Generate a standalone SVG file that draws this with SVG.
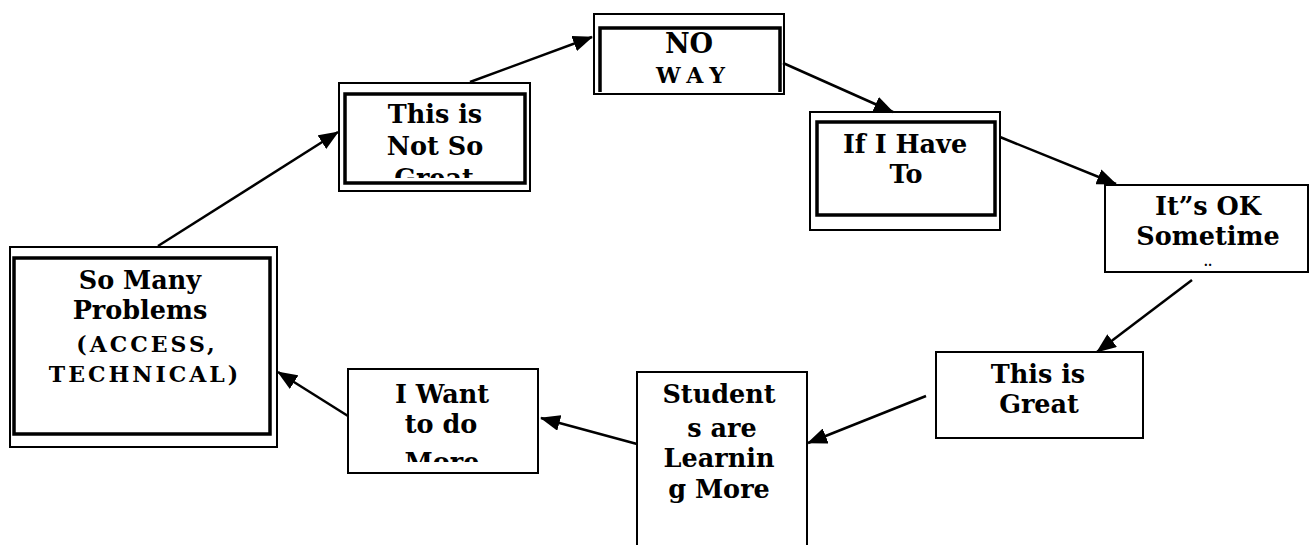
<svg xmlns="http://www.w3.org/2000/svg" width="1310" height="545" viewBox="0 0 1310 545">
<style>
.box{fill:#fff;stroke:#000;stroke-width:2}
.inner{fill:none;stroke:#000;stroke-width:3.5}
.t{font-family:"DejaVu Serif","Liberation Serif",serif;font-weight:bold;font-size:25.5px;text-anchor:middle;fill:#000}
.s{font-size:22px;letter-spacing:3px}
.conn{stroke:#000;stroke-width:2.5;fill:none;marker-end:url(#ah)}
</style>
<defs>
<marker id="ah" viewBox="0 0 20 16" refX="19" refY="8" markerWidth="20" markerHeight="16" markerUnits="userSpaceOnUse" orient="auto">
<path d="M0,0 L20,8 L0,16 z" fill="#000"/>
</marker>
<clipPath id="c2"><rect x="339" y="83" width="191" height="95"/></clipPath>
<clipPath id="c8"><rect x="348" y="369" width="190" height="93"/></clipPath>
</defs>
<rect width="1310" height="545" fill="#fff"/>
<g id="n1">
<rect class="box" x="10" y="247" width="267" height="200"/>
<rect class="inner" x="14" y="258" width="256" height="176"/>
<text class="t" x="140" y="289">So Many</text>
<text class="t" x="140" y="319">Problems</text>
<text class="t s" x="147" y="352">(ACCESS,</text>
<text class="t s" x="145" y="382">TECHNICAL)</text>
</g>
<g id="n2">
<rect class="box" x="339" y="83" width="191" height="108"/>
<rect class="inner" x="345" y="94" width="180" height="89"/>
<text class="t" x="435" y="123">This is</text>
<text class="t" x="435" y="155">Not So</text>
<text class="t" x="434" y="187" clip-path="url(#c2)">Great</text>
</g>
<g id="n3">
<rect class="box" x="594" y="14" width="190" height="80"/>
<path class="inner" d="M600,92 V28 H780 V92"/>
<text class="t" x="689" y="53" style="font-size:27px">NO</text>
<text class="t s" x="694" y="83" style="letter-spacing:7px">WAY</text>
</g>
<g id="n4">
<rect class="box" x="810" y="112" width="190" height="118"/>
<rect class="inner" x="817" y="122" width="178" height="93"/>
<text class="t" x="905" y="153">If I Have</text>
<text class="t" x="906" y="183">To</text>
</g>
<g id="n5">
<rect class="box" x="1105" y="185" width="203" height="87"/>
<text class="t" x="1208" y="215">It”s OK</text>
<text class="t" x="1208" y="245">Sometime</text>
<text class="t" x="1208" y="266" style="font-size:12px">..</text>
</g>
<g id="n6">
<rect class="box" x="936" y="352" width="207" height="86"/>
<text class="t" x="1038" y="383">This is</text>
<text class="t" x="1039" y="413">Great</text>
</g>
<g id="n7">
<rect class="box" x="637" y="372" width="170" height="190"/>
<text class="t" x="719" y="403">Student</text>
<text class="t" x="722" y="437">s are</text>
<text class="t" x="719" y="467">Learnin</text>
<text class="t" x="719" y="498">g More</text>
</g>
<g id="n8">
<rect class="box" x="348" y="369" width="190" height="104"/>
<text class="t" x="442" y="403">I Want</text>
<text class="t" x="441" y="433">to do</text>
<text class="t" x="442" y="471" clip-path="url(#c8)">More</text>
</g>
<g id="connectors">
<line class="conn" x1="158" y1="246" x2="338" y2="132"/>
<line class="conn" x1="470" y1="82" x2="592" y2="37"/>
<line class="conn" x1="783" y1="63" x2="893" y2="112"/>
<line class="conn" x1="1000" y1="137" x2="1116" y2="184"/>
<line class="conn" x1="1192" y1="280" x2="1097" y2="352"/>
<line class="conn" x1="926" y1="396" x2="808" y2="443"/>
<line class="conn" x1="637" y1="444" x2="541" y2="418"/>
<line class="conn" x1="348" y1="416" x2="278" y2="372"/>
</g>
</svg>
